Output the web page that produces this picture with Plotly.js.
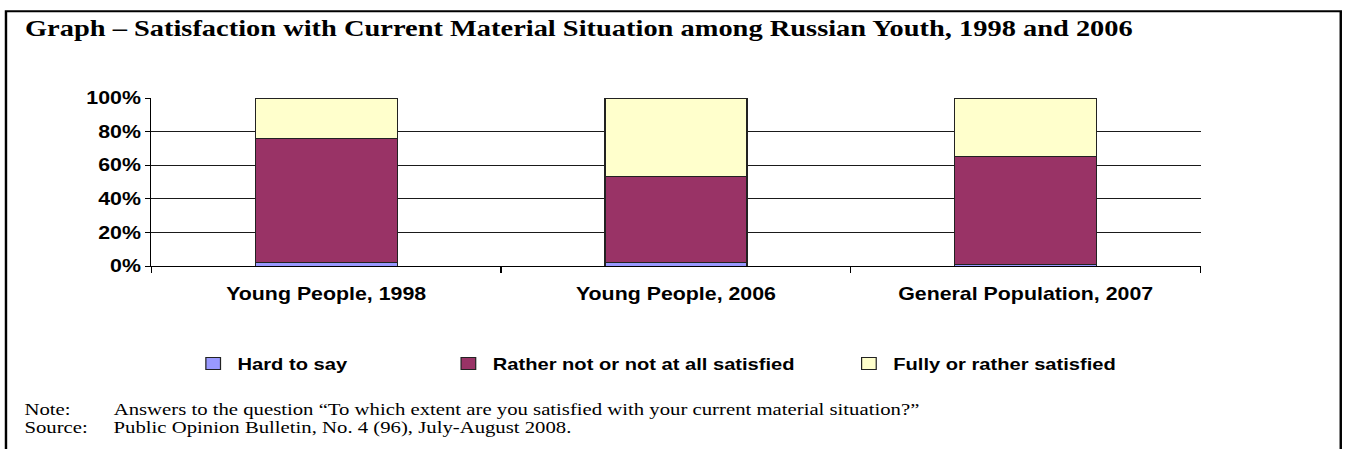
<!DOCTYPE html>
<html>
<head>
<meta charset="utf-8">
<script src="https://cdn.plot.ly/plotly-3.0.1.min.js"></script>
<style>
  html, body { margin: 0; padding: 0; background: #fff; overflow: hidden; }
  /* the figure is laid out at a narrower width and stretched horizontally */
  #wrap { width: 1104px; height: 449px; transform: scaleX(1.2201); transform-origin: 0 0; }
</style>
</head>
<body>
<div id="wrap"><div id="chart"></div></div>
<script>
// Survey groups
const categories = ['Young People, 1998', 'Young People, 2006', 'General Population, 2007'];

// Shares of answers, percent
const hardToSay    = [2, 2, 1];
const notSatisfied = [74, 51, 64];
const satisfied    = [24, 47, 35];

const seriesNames = ['Hard to say', 'Rather not or not at all satisfied', 'Fully or rather satisfied'];
const seriesColors = ['#9999FF', '#993366', '#FFFFCC'];

const yTicks = [0, 20, 40, 60, 80, 100];

const title = 'Graph – Satisfaction with Current Material Situation among Russian Youth, 1998 and 2006';
const noteLabel = 'Note:';
const noteText = 'Answers to the question “To which extent are you satisfied with your current material situation?”';
const sourceLabel = 'Source:';
const sourceText = 'Public Opinion Bulletin, No. 4 (96), July-August 2008.';

// figure geometry (px, before horizontal stretch)
const FIG_W = 1104, FIG_H = 449;
const L = 124.3, R = 983.6, T = 97.5, B = 266;
const PW = R - L, PH = B - T;
const px = v => (v - L) / PW;
const py = v => (B - v) / PH;

const sans = 'Liberation Sans, Arial, sans-serif';
const serif = 'Liberation Serif, Times New Roman, serif';

const series = [hardToSay, notSatisfied, satisfied];
const legendIds = ['legend', 'legend2', 'legend3'];
const traces = series.map((vals, i) => ({
  type: 'bar',
  x: categories,
  y: vals,
  name: seriesNames[i],
  legend: legendIds[i],
  marker: { color: seriesColors[i], line: { color: '#222', width: 1 } },
  hoverinfo: 'x+y+name'
}));

const legendFont = { family: sans, size: 16.5, color: '#000', weight: 'bold' };
const legendX = [155, 364, 692];
const legendY = py(364);
function legendBox(i) {
  return {
    orientation: 'h', x: px(legendX[i]), xanchor: 'left', y: legendY, yanchor: 'middle',
    font: legendFont, bgcolor: 'rgba(0,0,0,0)', borderwidth: 0
  };
}

const noteFont = { family: serif, size: 17, color: '#000' };
function note(text, x, y) {
  return { text, x: px(x), y: py(y), xref: 'paper', yref: 'paper',
           xanchor: 'left', yanchor: 'middle', showarrow: false, font: noteFont };
}

const layout = {
  width: FIG_W, height: FIG_H, autosize: false,
  margin: { l: L, r: FIG_W - R, t: T, b: FIG_H - B, pad: 0 },
  paper_bgcolor: '#fff', plot_bgcolor: '#fff',
  barmode: 'stack', bargap: 0.594,
  title: {
    text: title, font: { family: serif, size: 23.3, color: '#000', weight: 'bold' },
    x: 20.5 / FIG_W, xref: 'container', xanchor: 'left',
    y: 1 - 28 / FIG_H, yref: 'container', yanchor: 'middle'
  },
  xaxis: {
    type: 'category', tickson: 'boundaries', ticks: 'outside', ticklen: 6, tickcolor: '#000',
    showline: true, linecolor: '#000', linewidth: 1, showgrid: false,
    tickfont: { family: sans, size: 17.5, color: '#000', weight: 'bold' },
    ticklabelstandoff: 12, fixedrange: true
  },
  yaxis: {
    range: [0, 100], tickvals: yTicks, ticktext: yTicks.map(v => v + '%'),
    ticks: 'outside', ticklen: 4, tickcolor: '#000',
    showline: true, linecolor: '#000', linewidth: 1,
    showgrid: true, gridcolor: '#1a1a1a', gridwidth: 1, zeroline: false,
    tickfont: { family: sans, size: 17.5, color: '#000', weight: 'bold' },
    ticklabelstandoff: 3.5, fixedrange: true
  },
  yaxis2: {
    overlaying: 'y', side: 'right', range: [0, 100], showline: true, linecolor: '#8c8c8c',
    showgrid: false, zeroline: false, showticklabels: false, ticks: '', fixedrange: true
  },
  legend: legendBox(0), legend2: legendBox(1), legend3: legendBox(2),
  shapes: [{
    type: 'rect', xref: 'paper', yref: 'paper',
    x0: px(5.3), x1: px(1098.4), y0: py(470), y1: py(10.5),
    line: { color: '#000', width: 2 }, fillcolor: 'rgba(0,0,0,0)', layer: 'above'
  }],
  annotations: [
    note(noteLabel, 18.6, 410), note(noteText, 91.6, 410),
    note(sourceLabel, 18.6, 427.5), note(sourceText, 91.6, 427.5)
  ],
  showlegend: true
};

Plotly.newPlot('chart', traces, layout, { displayModeBar: false, staticPlot: true });
</script>
</body>
</html>
